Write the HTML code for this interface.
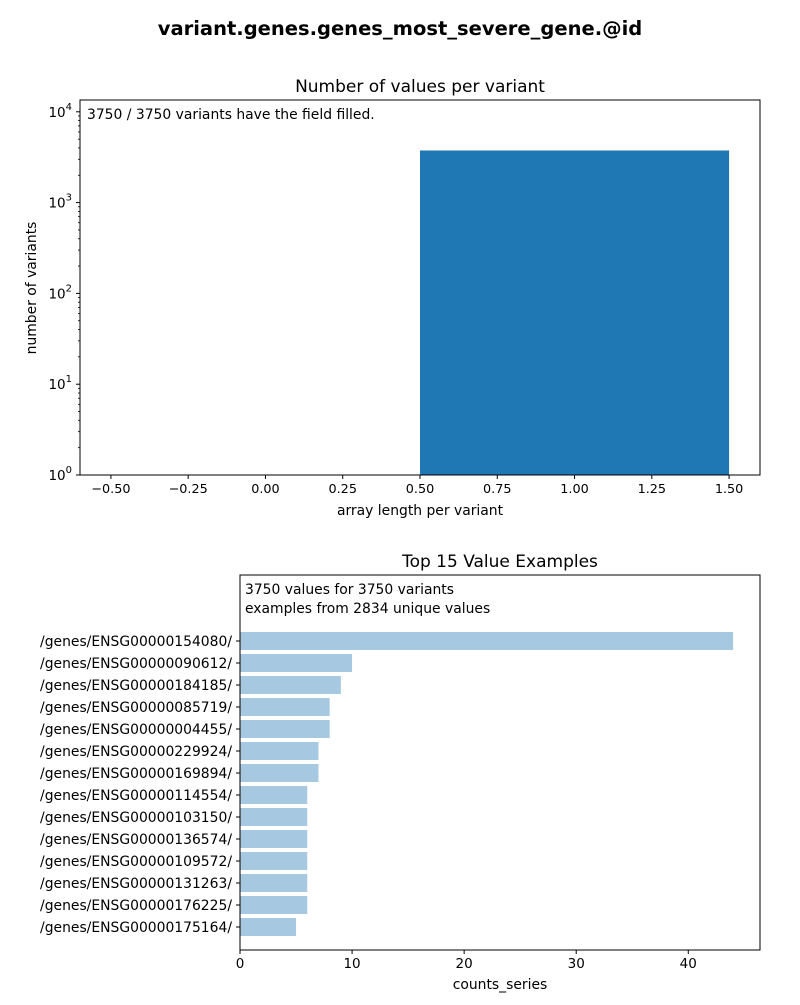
<!DOCTYPE html>
<html><head><meta charset="utf-8"><style>
body{margin:0;background:#fff;font-family:"Liberation Sans","DejaVu Sans",sans-serif}
svg text{font-family:"DejaVu Sans","Liberation Sans",sans-serif}
</style></head><body>
<svg id="svg" width="800" height="1000" xmlns="http://www.w3.org/2000/svg">
<rect width="800" height="1000" fill="#fff"/>
<text x="400" y="35" text-anchor="middle" font-size="19.5" font-weight="bold">variant.genes.genes_most_severe_gene.@id</text>
<g id="top"></g><g id="bot"></g>
</svg>
<script>
const histCats=[1];
const histVals=[3750];
const xTicks=[-0.5,-0.25,0,0.25,0.5,0.75,1,1.25,1.5];
const xTickLabels=["−0.50","−0.25","0.00","0.25","0.50","0.75","1.00","1.25","1.50"];
const genes=["/genes/ENSG00000154080/","/genes/ENSG00000090612/","/genes/ENSG00000184185/","/genes/ENSG00000085719/","/genes/ENSG00000004455/","/genes/ENSG00000229924/","/genes/ENSG00000169894/","/genes/ENSG00000114554/","/genes/ENSG00000103150/","/genes/ENSG00000136574/","/genes/ENSG00000109572/","/genes/ENSG00000131263/","/genes/ENSG00000176225/","/genes/ENSG00000175164/"];
const counts=[44,10,9,8,8,7,7,6,6,6,6,6,6,5];
const cTicks=[0,10,20,30,40];

const NS="http://www.w3.org/2000/svg";
function mk(p,t,a,txt){const e=document.createElementNS(NS,t);for(const k in a)e.setAttribute(k,a[k]);if(txt!==undefined)e.textContent=txt;p.appendChild(e);return e;}
const T=document.getElementById('top');
const L=80,R=760,TT=100,B=475;
const xs=v=>L+(v+0.6)/2.2*(R-L);
const ys=v=>B-Math.log10(v)/4.13*(B-TT);
histCats.forEach((c,i)=>{
 const r=mk(T,'rect',{x:xs(c-0.5),y:ys(histVals[i]),width:xs(c+0.5)-xs(c-0.5),height:B-ys(histVals[i]),fill:'#1f77b4'});
 
 
});
const f1=mk(T,'rect',{x:L,y:TT,width:R-L,height:B-TT,fill:'none',stroke:'#000','stroke-width':1});

xTicks.forEach((t,i)=>{const x=xs(t);mk(T,'line',{x1:x,x2:x,y1:B,y2:B+4,stroke:'#000'});
 const l=mk(T,'text',{x:x,y:B+18,'text-anchor':'middle','font-size':12.8},xTickLabels[i]);
 });
for(let d=0;d<=4;d++){const y=ys(Math.pow(10,d));mk(T,'line',{x1:L-4,x2:L,y1:y,y2:y,stroke:'#000'});
 const l=mk(T,'text',{x:L-8,y:y+5,'text-anchor':'end','font-size':13.5},'10');
 mk(l,'tspan',{dy:-7,'font-size':10},String(d));
 
 if(d<4)for(let m=2;m<10;m++){const v=m*Math.pow(10,d);const yy=ys(v);if(yy>=TT)mk(T,'line',{x1:L-2,x2:L,y1:yy,y2:yy,stroke:'#000','stroke-width':0.8});}}
[['Number of values per variant',420,92,17,'middle','top-chart-title'],['array length per variant',420,515,13.9,'middle','x-axis-title'],['3750 / 3750 variants have the field filled.',87,119,13.9,'start','fill-annotation']].forEach(a=>{const e=mk(T,'text',{x:a[1],y:a[2]-(a[5]==='x-axis-title'?0:0),'font-size':a[3],'text-anchor':a[4]},a[0]);});
const yt=mk(T,'text',{x:36,y:288,'font-size':13.9,'text-anchor':'middle',transform:'rotate(-90 36 288)'},'number of variants');

const Bo=document.getElementById('bot');
const L2=240,R2=760,T2=575,B2=950;
const cx=v=>L2+v/46.4*(R2-L2);
const cy=i=>641+i*22;
counts.forEach((v,i)=>{
 const r=mk(Bo,'rect',{x:cx(0),y:cy(i)-9,width:cx(v)-cx(0),height:18,fill:'#a6c8e0'});
 
 
 mk(Bo,'line',{x1:L2-4,x2:L2,y1:cy(i),y2:cy(i),stroke:'#000'});
 const l=mk(Bo,'text',{x:L2-8,y:cy(i)+5,'text-anchor':'end','font-size':13.9},genes[i]);
 
});
const f2=mk(Bo,'rect',{x:L2,y:T2,width:R2-L2,height:B2-T2,fill:'none',stroke:'#000'});

cTicks.forEach(t=>{const x=cx(t);mk(Bo,'line',{x1:x,x2:x,y1:B2,y2:B2+4,stroke:'#000'});
 const l=mk(Bo,'text',{x:x,y:B2+18,'text-anchor':'middle','font-size':13.5},String(t));
 });
[['Top 15 Value Examples',500,567,17,'middle','bottom-chart-title'],['counts_series',500,989,13.9,'middle','count-axis-title'],['3750 values for 3750 variants',245,594,13.9,'start','values-annotation'],['examples from 2834 unique values',245,613,13.9,'start','unique-annotation']].forEach(a=>{const e=mk(Bo,'text',{x:a[1],y:a[2],'font-size':a[3],'text-anchor':a[4]},a[0]);});
</script>
</body></html>
